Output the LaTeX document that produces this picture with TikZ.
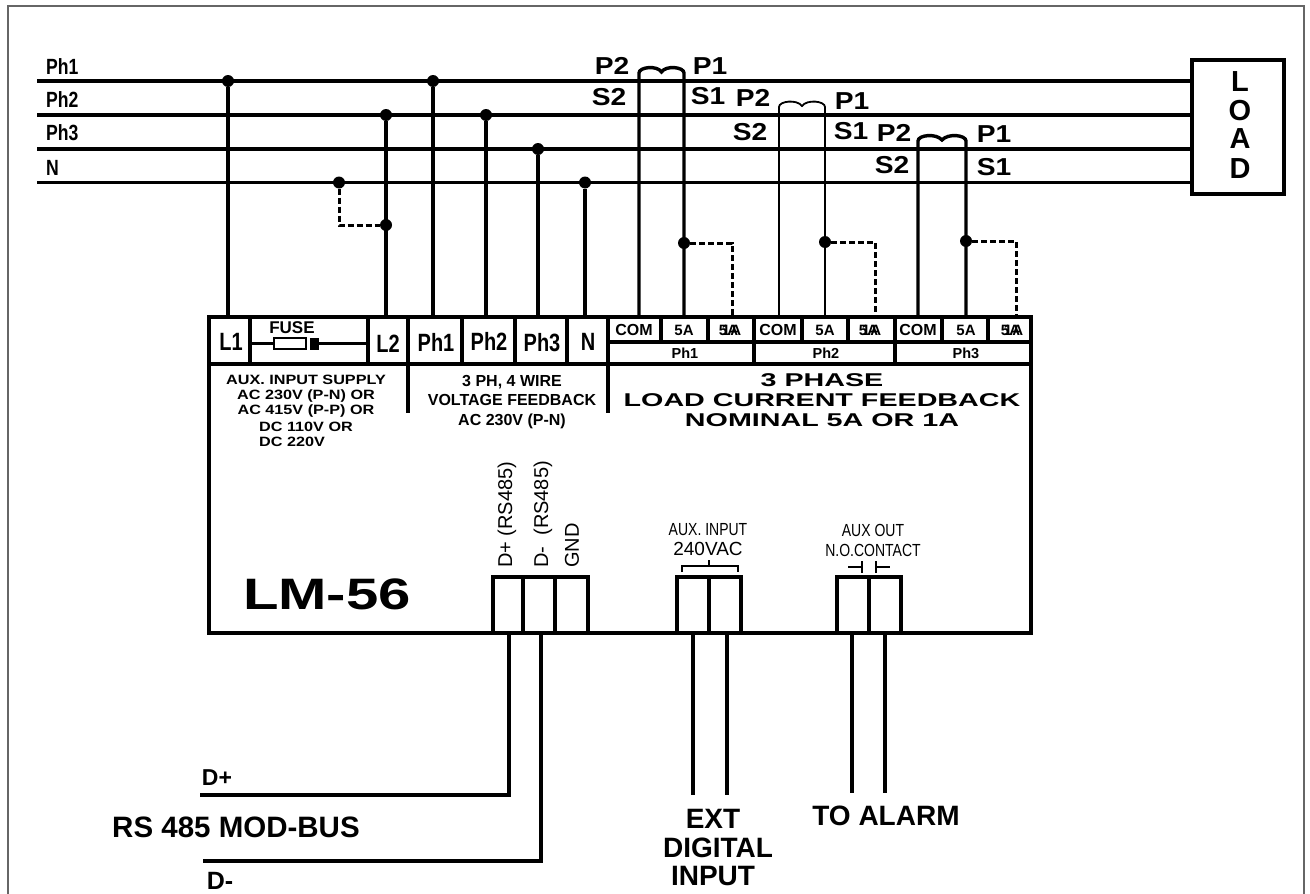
\documentclass[tikz,border=0pt]{standalone}
\usepackage{fontspec}
\setmainfont{Liberation Sans}
\newfontfamily\widefont[FakeStretch=1.2]{Liberation Sans}
\newfontfamily\tagfont[FakeStretch=1.15]{Liberation Sans}
\newfontfamily\broadfont[FakeStretch=1.55]{Liberation Sans}
\newfontfamily\modelfont[FakeStretch=1.32]{Liberation Sans}
\newfontfamily\slimfont[FakeStretch=0.8]{Liberation Sans}
\newcommand{\fsz}[1]{\fontsize{#1}{#1}\selectfont}
\begin{document}
\begin{tikzpicture} [x=1pt,y=-1pt,every node/.style={inner sep=0pt},
                dot_style/.style={circle, fill=black, minimum width=12pt},
                wire_style/.style={draw=black, line width=3.4pt},
                thin_style/.style={draw=black, line width=1.8pt},
                dash_style/.style={draw=black, line width=3pt, dash pattern=on 6pt off 3pt},
                box_style/.style={draw=black, line width=4pt},
                term_style/.style={font=\fsz{25}\slimfont\bfseries},
                phase_style/.style={font=\fsz{22}\slimfont\bfseries, anchor=west},
                tag_style/.style={font=\fsz{24.5}\tagfont\bfseries},
                load_style/.style={font=\fsz{29}\bfseries},
                pin_style/.style={font=\fsz{20}, rotate=90, anchor=west},
                aux_style/.style={font=\fsz{17.5}\slimfont}]
                \useasboundingbox (0,0) rectangle (1310,894);
                \draw [draw=black!60, line width=2pt] (7.5,894) -- (7.5,6) -- (1304,6) -- (1304,894);
                % phase lines
                \coordinate (ph1l) at (37,81);
                \coordinate (ph2l) at (37,115);
                \coordinate (ph3l) at (37,149);
                \coordinate (nl) at (37,182.5);
                \node [draw, line width=3.4pt, minimum width=92pt, minimum height=134pt] (load) at (1238,127) {};
                \coordinate (ph1r) at (1192,81);
                \coordinate (ph2r) at (1192,115);
                \coordinate (ph3r) at (1192,149);
                \coordinate (nr) at (1192,182.5);
                \draw [wire_style] (ph1l) -- (ph1r);
                \draw [wire_style] (ph2l) -- (ph2r);
                \draw [wire_style] (ph3l) -- (ph3r);
                \draw [wire_style] (nl) -- (nr);
                \node [phase_style] (lph1) at (46,67) {Ph1};
                \node [phase_style] (lph2) at (46,100) {Ph2};
                \node [phase_style] (lph3) at (46,133) {Ph3};
                \node [phase_style] (ln) at (46,168) {N};
                \node [load_style] (loadl) at (1240,82) {L};
                \node [load_style] (loado) at (1240,111) {O};
                \node [load_style] (loada) at (1240,139) {A};
                \node [load_style] (loadd) at (1240,169) {D};
                % main box
                \node [draw, line width=4pt, minimum width=822pt, minimum height=316pt] (unit) at (620,475) {};
                % terminals
                \coordinate (tl1) at (228,317);
                \coordinate (tl2) at (386,317);
                \coordinate (tph1) at (433,317);
                \coordinate (tph2) at (486,317);
                \coordinate (tph3) at (538,317);
                \coordinate (tn) at (585,317);
                \node [dot_style] (d1) at (228,81) {};
                \node [dot_style] (d2) at (386,115) {};
                \node [dot_style] (d3) at (386,225) {};
                \node [dot_style] (d4) at (339,182.5) {};
                \node [dot_style] (d5) at (433,81) {};
                \node [dot_style] (d6) at (486,115) {};
                \node [dot_style] (d7) at (538,149) {};
                \node [dot_style] (d8) at (585,182.5) {};
                \draw [wire_style] (d1) -- (tl1);
                \draw [wire_style] (d2) -- (tl2);
                \draw [wire_style] (d5) -- (tph1);
                \draw [wire_style] (d6) -- (tph2);
                \draw [wire_style] (d7) -- (tph3);
                \draw [wire_style] (d8) -- (tn);
                \draw [dash_style] (d4) |- (d3);
                \foreach \x in {250,368,408,462,515,567,608,754,895}
                    \draw [box_style] (\x,317) -- (\x,364);
                \foreach \x in {661,708,802,848,942,988}
                    \draw [box_style] (\x,317) -- (\x,342);
                \draw [box_style] (208,364) -- (1031,364);
                \draw [box_style] (608,342) -- (1031,342);
                \draw [box_style] (408,364) -- (408,413);
                \draw [box_style] (608,364) -- (608,413);
                \node [term_style] (nl1) at (231,342) {L1};
                \node [term_style] (nl2) at (388,344) {L2};
                \node [term_style] (nph1) at (436,342) {Ph1};
                \node [term_style] (nph2) at (489,341) {Ph2};
                \node [term_style] (nph3) at (542,343) {Ph3};
                \node [term_style] (nn) at (588,342) {N};
                % fuse
                \node [draw, line width=1.6pt, minimum width=32pt, minimum height=11pt] (fuse) at (290,343.5) {};
                \node [fill=black, minimum width=9pt, minimum height=12pt] (fblock) at (314,343.5) {};
                \coordinate (fa) at (250,343.5);
                \coordinate (fb) at (368,343.5);
                \draw [wire_style] (fa) -- (fuse);
                \draw [wire_style] (fblock) -- (fb);
                \node [font=\fsz{17}\bfseries] (fusel) at (292,328) {FUSE};
                % current transformers
                \foreach \a/\b/\c/\y/\p/\w/\n in {639/684/732/243/81/3.4pt/1,779/825/875/242/115/1.8pt/2,918/966/1016/241/149/3.4pt/3}{
                    \coordinate (ca\n) at (\a,317);
                    \coordinate (cb\n) at (\b,317);
                    \coordinate (cc\n) at (\c,317);
                    \node [dot_style] (cd\n) at (\b,\y) {};
                    \draw [draw=black, line width=\w] (ca\n) -- (\a,{\p-8})
                        .. controls (\a,{\p-14}) and ({\a+18},{\p-16}) .. ({(\a+\b)/2},{\p-9})
                        .. controls ({\b-18},{\p-16}) and (\b,{\p-14}) .. (\b,{\p-8}) -- (cb\n);
                    \draw [dash_style] (cd\n) -| (cc\n);
                }
                \foreach \x/\y/\t/\n in {612/66/P2/a,710/66/P1/b,609/97/S2/c,708/96/S1/d,753/98/P2/e,852/101/P1/f,750/132/S2/g,851/131/S1/h,894/133/P2/i,994/134/P1/j,892/165/S2/k,994/167/S1/l}
                    \node [tag_style] (ct\n) at (\x,\y) {\t};
                \foreach \x/\n in {634/a,778/b,918/c}
                    \node [font=\fsz{16}\bfseries] (com\n) at (\x,330) {COM};
                \foreach \x/\n in {684/a,825/b,966/c}
                    \node [font=\fsz{15}\bfseries] (fv\n) at (\x,330.5) {5A};
                \foreach \x/\n in {730/a,870/b,1012/c}{
                    \node [font=\fsz{15}\bfseries] (fw\n) at ({\x-1.5},330.5) {5A};
                    \node [font=\fsz{15}\bfseries] (on\n) at ({\x+1.5},330.5) {1A};
                }
                \foreach \x/\t/\n in {685/Ph1/a,826/Ph2/b,966/Ph3/c}
                    \node [font=\fsz{14.5}\bfseries] (pl\n) at (\x,353) {\t};
                % captions
                \node [font=\fsz{13.5}\widefont\bfseries, align=center] (aux) at (306,396) {AUX. INPUT SUPPLY\\[1.5pt]AC 230V (P-N) OR\\[1.5pt]AC 415V (P-P) OR};
                \node [font=\fsz{13.5}\widefont\bfseries, align=left, anchor=west] (auxb) at (259,434.5) {DC 110V OR\\[1.5pt]DC 220V};
                \node [font=\fsz{16}\bfseries, align=center] (volt) at (512,402) {3 PH, 4 WIRE\\[3.5pt]VOLTAGE FEEDBACK\\[3.5pt]AC 230V (P-N)};
                \node [font=\fsz{18.5}\broadfont\bfseries, align=center] (curr) at (822,400) {3 PHASE\\[1.5pt]LOAD CURRENT FEEDBACK\\[1.5pt]NOMINAL 5A OR 1A};
                \node [font=\fsz{44}\modelfont\bfseries] (model) at (327,594) {LM-56};
                % lower terminals
                \node [box_style, minimum width=95pt, minimum height=56pt, draw] (rsb) at (540.5,605) {};
                \draw [box_style] (rsb.north west) ++(31.5,0) -- ++(0,56);
                \draw [box_style] (rsb.north west) ++(63.5,0) -- ++(0,56);
                \node [box_style, minimum width=64pt, minimum height=56pt, draw] (inb) at (709,605) {};
                \draw [box_style] (inb.north) -- (inb.south);
                \node [box_style, minimum width=64pt, minimum height=56pt, draw] (outb) at (869,605) {};
                \draw [box_style] (outb.north) -- (outb.south);
                \node [pin_style] (rsp) at (507,568) {D+ (RS485)};
                \node [pin_style] (rsm) at (543,568) {D-\ \ (RS485)};
                \node [pin_style] (gnd) at (572,568) {GND};
                \node [aux_style] (ina) at (708,530) {AUX. INPUT};
                \node [font=\fsz{19}] (inc) at (708,549) {240VAC};
                \node [aux_style] (outa) at (873,530) {AUX OUT};
                \node [aux_style] (outc) at (873,550) {N.O.CONTACT};
                % aux bracket and contact
                \draw [thin_style] (682,572) -- (682,566) -- (738,566) -- (738,572);
                \draw [thin_style] (709,566) -- (709,560);
                \draw [thin_style] (848,567) -- (862,567);
                \draw [thin_style] (862,561) -- (862,573);
                \draw [thin_style] (876,561) -- (876,573);
                \draw [thin_style] (876,567) -- (890,567);
                % outgoing wires
                \coordinate (dpa) at (509,633);
                \coordinate (dpb) at (509,795);
                \coordinate (dpc) at (200,795);
                \coordinate (dma) at (541,633);
                \coordinate (dmb) at (541,861);
                \coordinate (dmc) at (203,861);
                \draw [wire_style] (dpa) -- (dpb) -- (dpc);
                \draw [wire_style] (dma) -- (dmb) -- (dmc);
                \coordinate (ea) at (693,633);
                \coordinate (eb) at (693,795);
                \coordinate (ec) at (727,633);
                \coordinate (ed) at (727,795);
                \draw [wire_style] (ea) -- (eb);
                \draw [wire_style] (ec) -- (ed);
                \coordinate (aa) at (852,633);
                \coordinate (ab) at (852,793);
                \coordinate (ac) at (885,633);
                \coordinate (ad) at (885,793);
                \draw [wire_style] (aa) -- (ab);
                \draw [wire_style] (ac) -- (ad);
                \node [font=\fsz{23}\bfseries] (dp) at (217,778) {D+};
                \node [font=\fsz{25}\bfseries] (dm) at (220,881) {D-};
                \node [font=\fsz{29.5}\bfseries] (rsl) at (236,827) {RS 485 MOD-BUS};
                \node [font=\fsz{28}\bfseries] (exta) at (713,819) {EXT};
                \node [font=\fsz{28}\bfseries] (extb) at (718,848) {DIGITAL};
                \node [font=\fsz{28}\bfseries] (extc) at (713,876) {INPUT};
                \node [font=\fsz{28}\bfseries] (alarm) at (886,816) {TO ALARM};
            \end{tikzpicture}
\end{document}
